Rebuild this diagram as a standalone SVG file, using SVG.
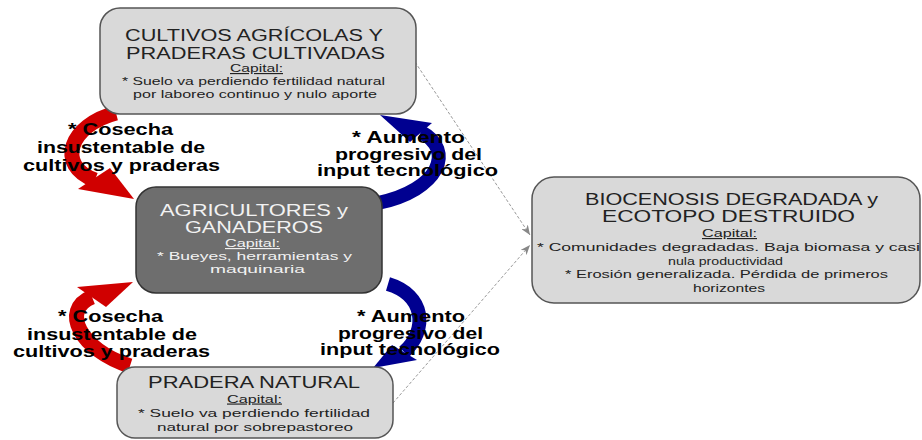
<svg xmlns="http://www.w3.org/2000/svg" width="922" height="440" viewBox="0 0 922 440">
<defs>
<style>
.box{fill:#d9d9d9;stroke:#555;stroke-width:1.5}
.dark{fill:#6e6e6e;stroke:#333;stroke-width:1.5}
text{font-family:"Liberation Sans",Arial,sans-serif}
.big{font-size:16px;fill:#222}
.sm{font-size:11.5px;fill:#222}
.w{fill:#f2f2f2}
.u{text-decoration:underline}
.lab{font-size:16px;font-weight:bold;fill:#000}
.red{fill:none;stroke:#d00000;stroke-width:15}
.redh{fill:#d00000}
.blue{fill:none;stroke:#000090;stroke-width:14}
.blueh{fill:#000090}
.dash{fill:none;stroke:#999;stroke-width:1;stroke-dasharray:3 2}
</style>
<marker id="ah" viewBox="0 0 10 8" refX="10" refY="4" markerWidth="10" markerHeight="8" markerUnits="userSpaceOnUse" orient="auto">
<path d="M0,0 L10,4 L0,8 L3,4 z" fill="#888"/>
</marker>
</defs>
<rect width="922" height="440" fill="#fff"/>
<g id="connectors">
<path class="dash" d="M415,62 L530,235" marker-end="url(#ah)"/>
<path class="dash" d="M393,403 L530,245" marker-end="url(#ah)"/>
<path class="red" d="M116,113 C70,125 55,165 95,180"/>
<polygon class="redh" points="78,189 110,168 134,199"/>
<path class="red" d="M130,366 C80,350 60,310 92,297"/>
<polygon class="redh" points="77,287 133,282 106,307"/>
<path class="blue" d="M378,203 C440,190 455,150 421,132"/>
<polygon class="blueh" points="380,115 432,123 410,142"/>
<path class="blue" d="M388,284 C425,295 428,330 404,352"/>
<polygon class="blueh" points="392,345 417,360 373,368"/>
</g>
<g id="labels">
<text class="lab" x="68" y="135" textLength="105" lengthAdjust="spacingAndGlyphs">* Cosecha</text>
<text class="lab" x="37" y="153" textLength="168" lengthAdjust="spacingAndGlyphs">insustentable de</text>
<text class="lab" x="23" y="171" textLength="197" lengthAdjust="spacingAndGlyphs">cultivos y praderas</text>
<text class="lab" x="352" y="143" textLength="113" lengthAdjust="spacingAndGlyphs">* Aumento</text>
<text class="lab" x="335" y="159.5" textLength="147" lengthAdjust="spacingAndGlyphs">progresivo del</text>
<text class="lab" x="317" y="175.5" textLength="181" lengthAdjust="spacingAndGlyphs">input tecnológico</text>
<text class="lab" x="58" y="321.5" textLength="105" lengthAdjust="spacingAndGlyphs">* Cosecha</text>
<text class="lab" x="27" y="339.5" textLength="170" lengthAdjust="spacingAndGlyphs">insustentable de</text>
<text class="lab" x="13" y="357" textLength="197" lengthAdjust="spacingAndGlyphs">cultivos y praderas</text>
<text class="lab" x="357" y="321.5" textLength="108" lengthAdjust="spacingAndGlyphs">* Aumento</text>
<text class="lab" x="338" y="338.5" textLength="145" lengthAdjust="spacingAndGlyphs">progresivo del</text>
<text class="lab" x="320" y="355" textLength="180" lengthAdjust="spacingAndGlyphs">input tecnológico</text>
</g>
<g id="cultivos">
<rect class="box" x="100" y="8" width="316" height="106" rx="20"/>
<text class="big" x="125" y="41" textLength="258" lengthAdjust="spacingAndGlyphs">CULTIVOS AGRÍCOLAS Y</text>
<text class="big" x="126" y="59" textLength="259" lengthAdjust="spacingAndGlyphs">PRADERAS CULTIVADAS</text>
<text class="sm u" x="230" y="72" textLength="53" lengthAdjust="spacingAndGlyphs">Capital:</text>
<text class="sm" x="122" y="85" textLength="263" lengthAdjust="spacingAndGlyphs">* Suelo va perdiendo fertilidad natural</text>
<text class="sm" x="133" y="98" textLength="244" lengthAdjust="spacingAndGlyphs">por laboreo continuo y nulo aporte</text>
</g>
<g id="agricultores">
<rect class="dark" x="136" y="187" width="246" height="106" rx="20"/>
<text class="big w" x="160" y="216" textLength="188" lengthAdjust="spacingAndGlyphs">AGRICULTORES y</text>
<text class="big w" x="185" y="233" textLength="138" lengthAdjust="spacingAndGlyphs">GANADEROS</text>
<text class="sm w u" x="225" y="247" textLength="55" lengthAdjust="spacingAndGlyphs">Capital:</text>
<text class="sm w" x="157" y="260" textLength="195" lengthAdjust="spacingAndGlyphs">* Bueyes, herramientas y</text>
<text class="sm w" x="210" y="273" textLength="95" lengthAdjust="spacingAndGlyphs">maquinaria</text>
</g>
<g id="biocenosis">
<rect class="box" x="532" y="177" width="388" height="126" rx="22"/>
<text class="big" x="585" y="205" textLength="293" lengthAdjust="spacingAndGlyphs">BIOCENOSIS DEGRADADA y</text>
<text class="big" x="602" y="222" textLength="253" lengthAdjust="spacingAndGlyphs">ECOTOPO DESTRUIDO</text>
<text class="sm u" x="702" y="237" textLength="55" lengthAdjust="spacingAndGlyphs">Capital:</text>
<text class="sm" x="537" y="251" textLength="383" lengthAdjust="spacingAndGlyphs">* Comunidades degradadas. Baja biomasa y casi</text>
<text class="sm" x="668" y="264.5" textLength="115" lengthAdjust="spacingAndGlyphs">nula productividad</text>
<text class="sm" x="565" y="278" textLength="323" lengthAdjust="spacingAndGlyphs">* Erosión generalizada. Pérdida de primeros</text>
<text class="sm" x="693" y="291.5" textLength="72" lengthAdjust="spacingAndGlyphs">horizontes</text>
</g>
<g id="pradera">
<rect class="box" x="117" y="367" width="276" height="71" rx="18"/>
<text class="big" x="148" y="388" textLength="212" lengthAdjust="spacingAndGlyphs">PRADERA NATURAL</text>
<text class="sm u" x="227" y="402.5" textLength="55" lengthAdjust="spacingAndGlyphs">Capital:</text>
<text class="sm" x="138" y="417" textLength="232" lengthAdjust="spacingAndGlyphs">* Suelo va perdiendo fertilidad</text>
<text class="sm" x="157" y="431" textLength="196" lengthAdjust="spacingAndGlyphs">natural por sobrepastoreo</text>
</g>
</svg>
